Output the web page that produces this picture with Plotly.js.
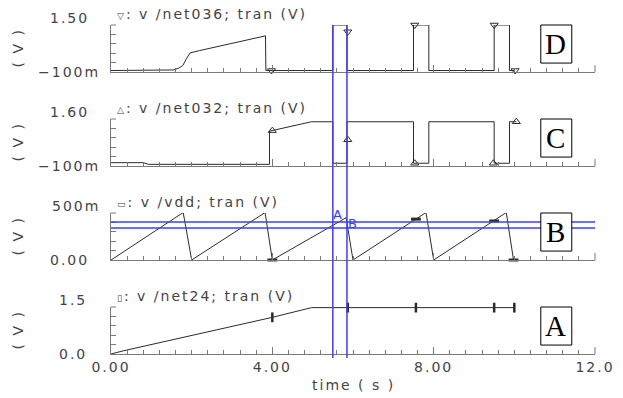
<!DOCTYPE html>
<html>
<head>
<meta charset="utf-8">
<script src="https://cdn.plot.ly/plotly-3.0.1.min.js"></script>
<style>
  html, body { margin: 0; padding: 0; background: #ffffff; }
  #chart { width: 623px; height: 398px; }
  svg text { letter-spacing: 2px; }
</style>
</head>
<body>
<div id="chart"></div>
<script>
// Transient waveforms (time in s, voltage in V)

// /net24
const tNet24 = [0, 0.3, 4.0, 4.97, 10.0];
const vNet24 = [0, 0.1, 1.17, 1.48, 1.48];
const tNet24Marks = [4.0, 5.87, 7.56, 9.5, 10.0];
const vNet24Marks = [1.17, 1.48, 1.48, 1.48, 1.48];

// /vdd
const tVdd = [0, 1.79, 2.0, 3.82, 4.0, 5.83, 6.0, 7.81, 8.0, 9.8, 9.98];
const vVdd = [0, 0.505, 0, 0.505, 0, 0.45, 0, 0.505, 0, 0.505, 0];
const tVddMarks = [4.0, 7.56, 9.5, 9.98];
const vVddMarks = [0, 0.435, 0.415, 0];

// /net032
const tNet032 = [0, 0.8, 0.93, 3.93, 3.93, 4.97, 5.5, 5.5, 5.85, 5.85, 7.5, 7.5, 7.88, 7.88, 9.5, 9.5, 9.88, 9.88, 10.05];
const vNet032 = [0.02, 0.02, -0.04, -0.04, 1.16, 1.5, 1.5, 0, 0, 1.5, 1.5, 0, 0, 1.5, 1.5, 0, 0, 1.5, 1.5];
const tNet032Marks = [4.0, 5.87, 7.53, 9.48, 10.05];
const vNet032Marks = [1.18, 0.85, 0.0, 0.0, 1.5];

// /net036
const tNet036 = [0, 1.38, 1.55, 1.68, 1.78, 1.87, 1.96, 2.2, 3.83, 3.84, 5.5, 5.5, 5.85, 5.85, 7.5, 7.5, 7.88, 7.88, 9.5, 9.5, 9.88, 9.88, 10.02];
const vNet036 = [-0.05, -0.05, -0.03, 0.03, 0.12, 0.35, 0.55, 0.63, 1.13, -0.05, -0.05, 1.5, 1.5, -0.05, -0.05, 1.5, 1.5, -0.05, -0.05, 1.5, 1.5, -0.05, -0.05];
const tNet036Marks = [3.98, 5.87, 7.53, 9.5, 10.02];
const vNet036Marks = [-0.05, 1.27, 1.5, 1.5, -0.05];

// Cursors
const cursorTimes = [5.5, 5.85];          // vertical cursors A, B
const cursorLevels = [0.405, 0.34];       // horizontal cursors on /vdd
const cursorNames = ['A', 'B'];
const cursorLabelT = [5.64, 6.0];
const cursorLabelV = [0.48, 0.39];

// Axis labels
const xTickVals = [0, 4, 8, 12];
const xTickText = ['0.00', '4.00', '8.00', '12.0'];
const xMinorStep = 0.4;
const panelTitles = ['v /net24; tran (V)', 'v /vdd; tran (V)', 'v /net032; tran (V)', 'v /net036; tran (V)'];
const panelSymbols = ['\u25AF', '\u25AD', '\u25B3', '\u25BD'];
const panelLetters = ['A', 'B', 'C', 'D'];
const topLabels = ['1.5', '500m', '1.60', '1.50'];
const bottomLabels = ['0.0', '0.00', '\u2212100m', '\u2212100m'];
const yUnitLabel = '( V )';
const xTitle = 'time ( s )';

// Panel scales, bottom to top
const yRanges = [[0, 1.5], [0, 0.5], [-0.1, 1.6], [-0.1, 1.5]];
const domains = [[0, 1 / 7], [2 / 7, 3 / 7], [4 / 7, 5 / 7], [6 / 7, 1]];

const series = [
  { t: tNet24, v: vNet24, tm: tNet24Marks, vm: vNet24Marks, sym: 'line-ns-open', msize: 7, mw: 2.5 },
  { t: tVdd, v: vVdd, tm: tVddMarks, vm: vVddMarks, sym: 'line-ew-open', msize: 7, mw: 3 },
  { t: tNet032, v: vNet032, tm: tNet032Marks, vm: vNet032Marks, sym: 'triangle-up-open', msize: 7, mw: 1 },
  { t: tNet036, v: vNet036, tm: tNet036Marks, vm: vNet036Marks, sym: 'triangle-down-open', msize: 7, mw: 1 }
];

const FONT = '"DejaVu Sans", sans-serif';
const TXT = '#444444';
const AXC = '#7a7a7a';
const TRACE = '#2b2b2b';
const BLUE = '#3c3cff';
const PANEL_PX = 47;   // height of one strip in px
const PLOT_PX = 484;   // width of the strips in px

// fine time ticks every 0.4 s, labelled only at the major positions
const xEnd = xTickVals[xTickVals.length - 1];
const fineVals = [];
for (let k = 0; k * xMinorStep <= xEnd + 1e-9; k++) fineVals.push(Math.round(k * xMinorStep * 100) / 100);
const fineText = fineVals.map(v => {
  const j = xTickVals.findIndex(m => Math.abs(m - v) < 1e-6);
  return j >= 0 ? xTickText[j] : '';
});

const data = [];
const layout = {
  width: 623, height: 398,
  margin: { l: 111, r: 28, t: 25, b: 44 },
  paper_bgcolor: '#ffffff', plot_bgcolor: '#ffffff',
  showlegend: false,
  font: { family: FONT, size: 14, color: TXT },
  annotations: [], shapes: []
};

series.forEach((s, i) => {
  const n = i === 0 ? '' : String(i + 1);
  const xa = 'x' + n, ya = 'y' + n;
  data.push({ x: s.t, y: s.v, xaxis: xa, yaxis: ya, mode: 'lines', type: 'scatter',
              line: { color: TRACE, width: 1 }, hoverinfo: 'skip' });
  data.push({ x: s.tm, y: s.vm, xaxis: xa, yaxis: ya, mode: 'markers', type: 'scatter', cliponaxis: false,
              marker: { symbol: s.sym, size: s.msize, color: TRACE, line: { color: TRACE, width: s.mw } },
              hoverinfo: 'skip' });

  const r = yRanges[i];
  const yt = [0, 1, 2, 3, 4, 5].map(k => r[0] + k * (r[1] - r[0]) / 5);
  layout['xaxis' + n] = {
    anchor: ya, range: [0, xEnd], domain: [0, 1],
    showline: true, linecolor: AXC, linewidth: 1, showgrid: false, zeroline: false,
    ticks: 'inside', ticklen: 4, tickcolor: AXC, tickwidth: 1,
    tickmode: 'array', tickvals: fineVals, ticktext: fineText,
    showticklabels: i === 0, tickfont: { family: FONT, size: 14, color: TXT },
    fixedrange: true
  };
  // longer ticks at the labelled times
  layout['xaxis' + (i + 5)] = {
    overlaying: xa, anchor: ya, range: [0, xEnd], side: 'bottom',
    showline: false, showgrid: false, zeroline: false,
    ticks: 'inside', ticklen: 7, tickcolor: AXC, tickwidth: 1,
    tickmode: 'array', tickvals: xTickVals, showticklabels: false, fixedrange: true
  };
  layout['yaxis' + n] = {
    anchor: xa, domain: domains[i], range: r,
    showline: true, linecolor: AXC, linewidth: 1, showgrid: false, zeroline: false,
    ticks: 'inside', ticklen: 5, tickcolor: AXC, tickwidth: 1,
    tickmode: 'array', tickvals: yt, showticklabels: false, fixedrange: true
  };

  const xd = xa + ' domain', yd = ya + ' domain';
  // end ticks that sit on the axis corners
  layout.shapes.push({ type: 'line', xref: xd, yref: yd, x0: 1, x1: 1, y0: 0, y1: 7 / PANEL_PX,
                       line: { color: AXC, width: 1 } });
  layout.shapes.push({ type: 'line', xref: xd, yref: yd, x0: 0, x1: 5 / PLOT_PX, y0: 1, y1: 1,
                       line: { color: AXC, width: 1 } });
  // panel heading
  layout.annotations.push({
    xref: xd, yref: yd, x: 0, y: 1, xanchor: 'left', yanchor: 'middle', xshift: 4, yshift: 11,
    text: '<span style="font-size:9px">' + panelSymbols[i] + '</span>: ' + panelTitles[i],
    showarrow: false, font: { family: FONT, size: 14, color: TXT }
  });
  // range labels
  const shiftFor = s2 => s2.endsWith('m') ? -9 : (s2.length === 3 ? -22 : -20);
  layout.annotations.push({
    xref: xd, yref: yd, x: 0, y: 1, xanchor: 'right', yanchor: 'middle', xshift: shiftFor(topLabels[i]), yshift: 7,
    text: topLabels[i], showarrow: false, font: { family: FONT, size: 14, color: TXT }
  });
  layout.annotations.push({
    xref: xd, yref: yd, x: 0, y: 0, xanchor: 'right', yanchor: 'middle', xshift: shiftFor(bottomLabels[i]), yshift: 0,
    text: bottomLabels[i], showarrow: false, font: { family: FONT, size: 14, color: TXT }
  });
  // unit label
  layout.annotations.push({
    xref: 'paper', yref: yd, x: -94 / PLOT_PX, y: 0.5, xanchor: 'center', yanchor: 'middle', textangle: -90,
    text: yUnitLabel, showarrow: false, font: { family: FONT, size: 14, color: TXT }
  });
});

// an empty trace on each overlay axis so its ticks are drawn
for (let i = 0; i < 4; i++) {
  const n = i === 0 ? '' : String(i + 1);
  data.push({ x: [], y: [], xaxis: 'x' + (i + 5), yaxis: 'y' + n, type: 'scatter', mode: 'lines', hoverinfo: 'skip' });
}

// cursor lines
cursorTimes.forEach(t => {
  layout.shapes.push({ type: 'line', xref: 'x', yref: 'paper', x0: t, x1: t, y0: -4 / 329, y1: 1,
                       line: { color: BLUE, width: 1.5 } });
});
cursorLevels.forEach(v => {
  layout.shapes.push({ type: 'line', xref: 'paper', yref: 'y2', x0: 0, x1: 1, y0: v, y1: v,
                       line: { color: BLUE, width: 1.5 } });
});
cursorNames.forEach((nm, k) => {
  layout.annotations.push({ xref: 'x2', yref: 'y2', x: cursorLabelT[k], y: cursorLabelV[k],
                            xanchor: 'center', yanchor: 'middle', text: nm, showarrow: false,
                            font: { family: FONT, size: 13, color: BLUE } });
});

// framed panel letters
panelLetters.forEach((L, i) => {
  const n = i === 0 ? '' : String(i + 1);
  layout.shapes.push({ type: 'rect', xref: 'x' + n + ' domain', yref: 'y' + n + ' domain',
                       x0: 0.888, x1: 0.952, y0: 0.19, y1: 1.0,
                       fillcolor: '#ffffff', line: { color: '#000000', width: 1 } });
  layout.annotations.push({ xref: 'x' + n + ' domain', yref: 'y' + n + ' domain', x: 0.92, y: 0.595,
                            xanchor: 'center', yanchor: 'middle', text: L, showarrow: false,
                            font: { family: '"Liberation Serif", serif', size: 29, color: '#000000' } });
});

// time axis title
layout.annotations.push({ xref: 'paper', yref: 'paper', x: 0.5, y: -31 / 329, xanchor: 'center', yanchor: 'middle',
                          text: xTitle, showarrow: false, font: { family: FONT, size: 14, color: TXT } });

Plotly.newPlot('chart', data, layout, { staticPlot: true, displayModeBar: false });
</script>
</body>
</html>
